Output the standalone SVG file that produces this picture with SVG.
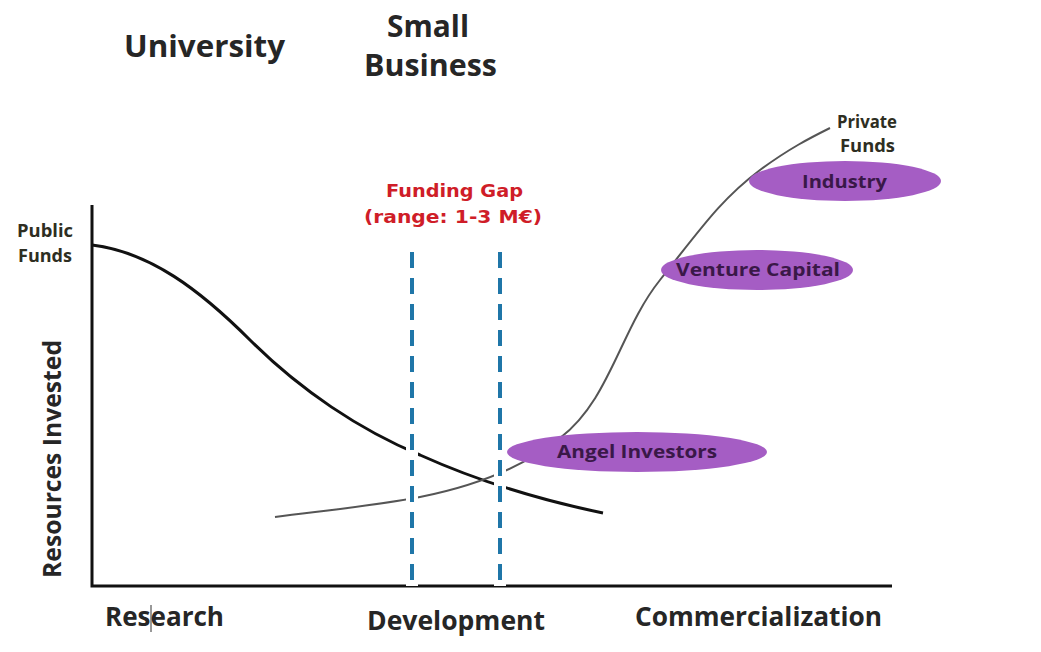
<svg xmlns="http://www.w3.org/2000/svg" width="1041" height="652" viewBox="0 0 1041 652">
  <style>
    .lbl { font-family: "Open Sans", "Liberation Sans", sans-serif; font-weight: 700; fill: #262626; }
    .head { font-size: 31px; }
    .axis { font-size: 27px; }
    .small { font-size: 17px; fill: #2e2e22; }
    .gap { font-family: "DejaVu Sans", "Liberation Sans", sans-serif; font-weight: 700; font-size: 17px; fill: #cf1d28; }
    .oval { fill: #a55dc4; }
    .ovaltxt { font-family: "Open Sans", "Liberation Sans", sans-serif; font-weight: 700; font-size: 18px; fill: #3a1848; }
    .dash { stroke: #1f76a8; stroke-width: 4; stroke-dasharray: 16 10; fill: none; }
  </style>
  <rect width="1041" height="652" fill="#ffffff"/>

  <!-- stage headings -->
  <g id="university"><text class="lbl head" x="124" y="57" textLength="161" lengthAdjust="spacingAndGlyphs">University</text></g>
  <g id="small-business">
    <text class="lbl head" x="387" y="37" textLength="82" lengthAdjust="spacingAndGlyphs">Small</text>
    <text class="lbl head" x="364" y="76" textLength="133" lengthAdjust="spacingAndGlyphs">Business</text>
  </g>

  <!-- axes -->
  <g id="axes" stroke="#111" stroke-width="3" fill="none">
    <path d="M92 205 V586 H892"/>
  </g>
  <g id="y-label"><text class="lbl" font-size="25" transform="translate(61 578) rotate(-90)" textLength="238" lengthAdjust="spacingAndGlyphs">Resources Invested</text></g>
  <g id="x-labels">
    <text class="lbl axis" x="105" y="626" textLength="119" lengthAdjust="spacingAndGlyphs">Research</text>
    <line x1="151" y1="605" x2="151" y2="632" stroke="#333" stroke-width="1"/>
    <text class="lbl axis" x="367" y="630" textLength="178" lengthAdjust="spacingAndGlyphs">Development</text>
    <text class="lbl axis" x="635" y="626" textLength="247" lengthAdjust="spacingAndGlyphs">Commercialization</text>
  </g>

  <g id="public-funds">
    <text class="lbl small" x="17" y="237" textLength="56" lengthAdjust="spacingAndGlyphs">Public</text>
    <text class="lbl small" x="18" y="262" textLength="54" lengthAdjust="spacingAndGlyphs">Funds</text>
  </g>
  <g id="private-funds">
    <text class="lbl small" x="837" y="128" textLength="60" lengthAdjust="spacingAndGlyphs">Private</text>
    <text class="lbl small" x="840" y="152" textLength="55" lengthAdjust="spacingAndGlyphs">Funds</text>
  </g>

  <!-- connectors: funding curves and gap markers -->
  <g id="connectors">
    <path d="M92 245 C150 252 200 290 250 340 C300 390 360 430 420 455 C480 482 540 500 603 513" stroke="#111" stroke-width="3" fill="none"/>
    <path d="M275 517 C330 510 380 505 420 497 C470 487 520 470 560 438 C610 400 620 330 660 280 C700 230 720 200 760 170 C790 148 810 138 830 128" stroke="#555" stroke-width="2" fill="none"/>
    <!-- white breaks around gap markers -->
    <line x1="412" y1="250" x2="412" y2="586" stroke="#fff" stroke-width="12"/>
    <line x1="500" y1="250" x2="500" y2="586" stroke="#fff" stroke-width="12"/>
    <line class="dash" x1="412" y1="252" x2="412" y2="586"/>
    <line class="dash" x1="500" y1="252" x2="500" y2="586"/>
  </g>

  <g id="funding-gap">
    <text class="gap" x="386" y="197" textLength="137" lengthAdjust="spacingAndGlyphs">Funding Gap</text>
    <text class="gap" x="364" y="223" textLength="178" lengthAdjust="spacingAndGlyphs">(range: 1-3 M€)</text>
  </g>

  <g id="angel-investors">
    <ellipse class="oval" cx="637" cy="452" rx="130" ry="20"/>
    <text class="ovaltxt" x="557" y="458" textLength="160" lengthAdjust="spacingAndGlyphs">Angel Investors</text>
  </g>
  <g id="venture-capital">
    <ellipse class="oval" cx="757" cy="270" rx="96" ry="20"/>
    <text class="ovaltxt" x="676" y="276" textLength="164" lengthAdjust="spacingAndGlyphs">Venture Capital</text>
  </g>
  <g id="industry">
    <ellipse class="oval" cx="845" cy="181" rx="96" ry="20"/>
    <text class="ovaltxt" x="802" y="188" textLength="85" lengthAdjust="spacingAndGlyphs">Industry</text>
  </g>
</svg>
